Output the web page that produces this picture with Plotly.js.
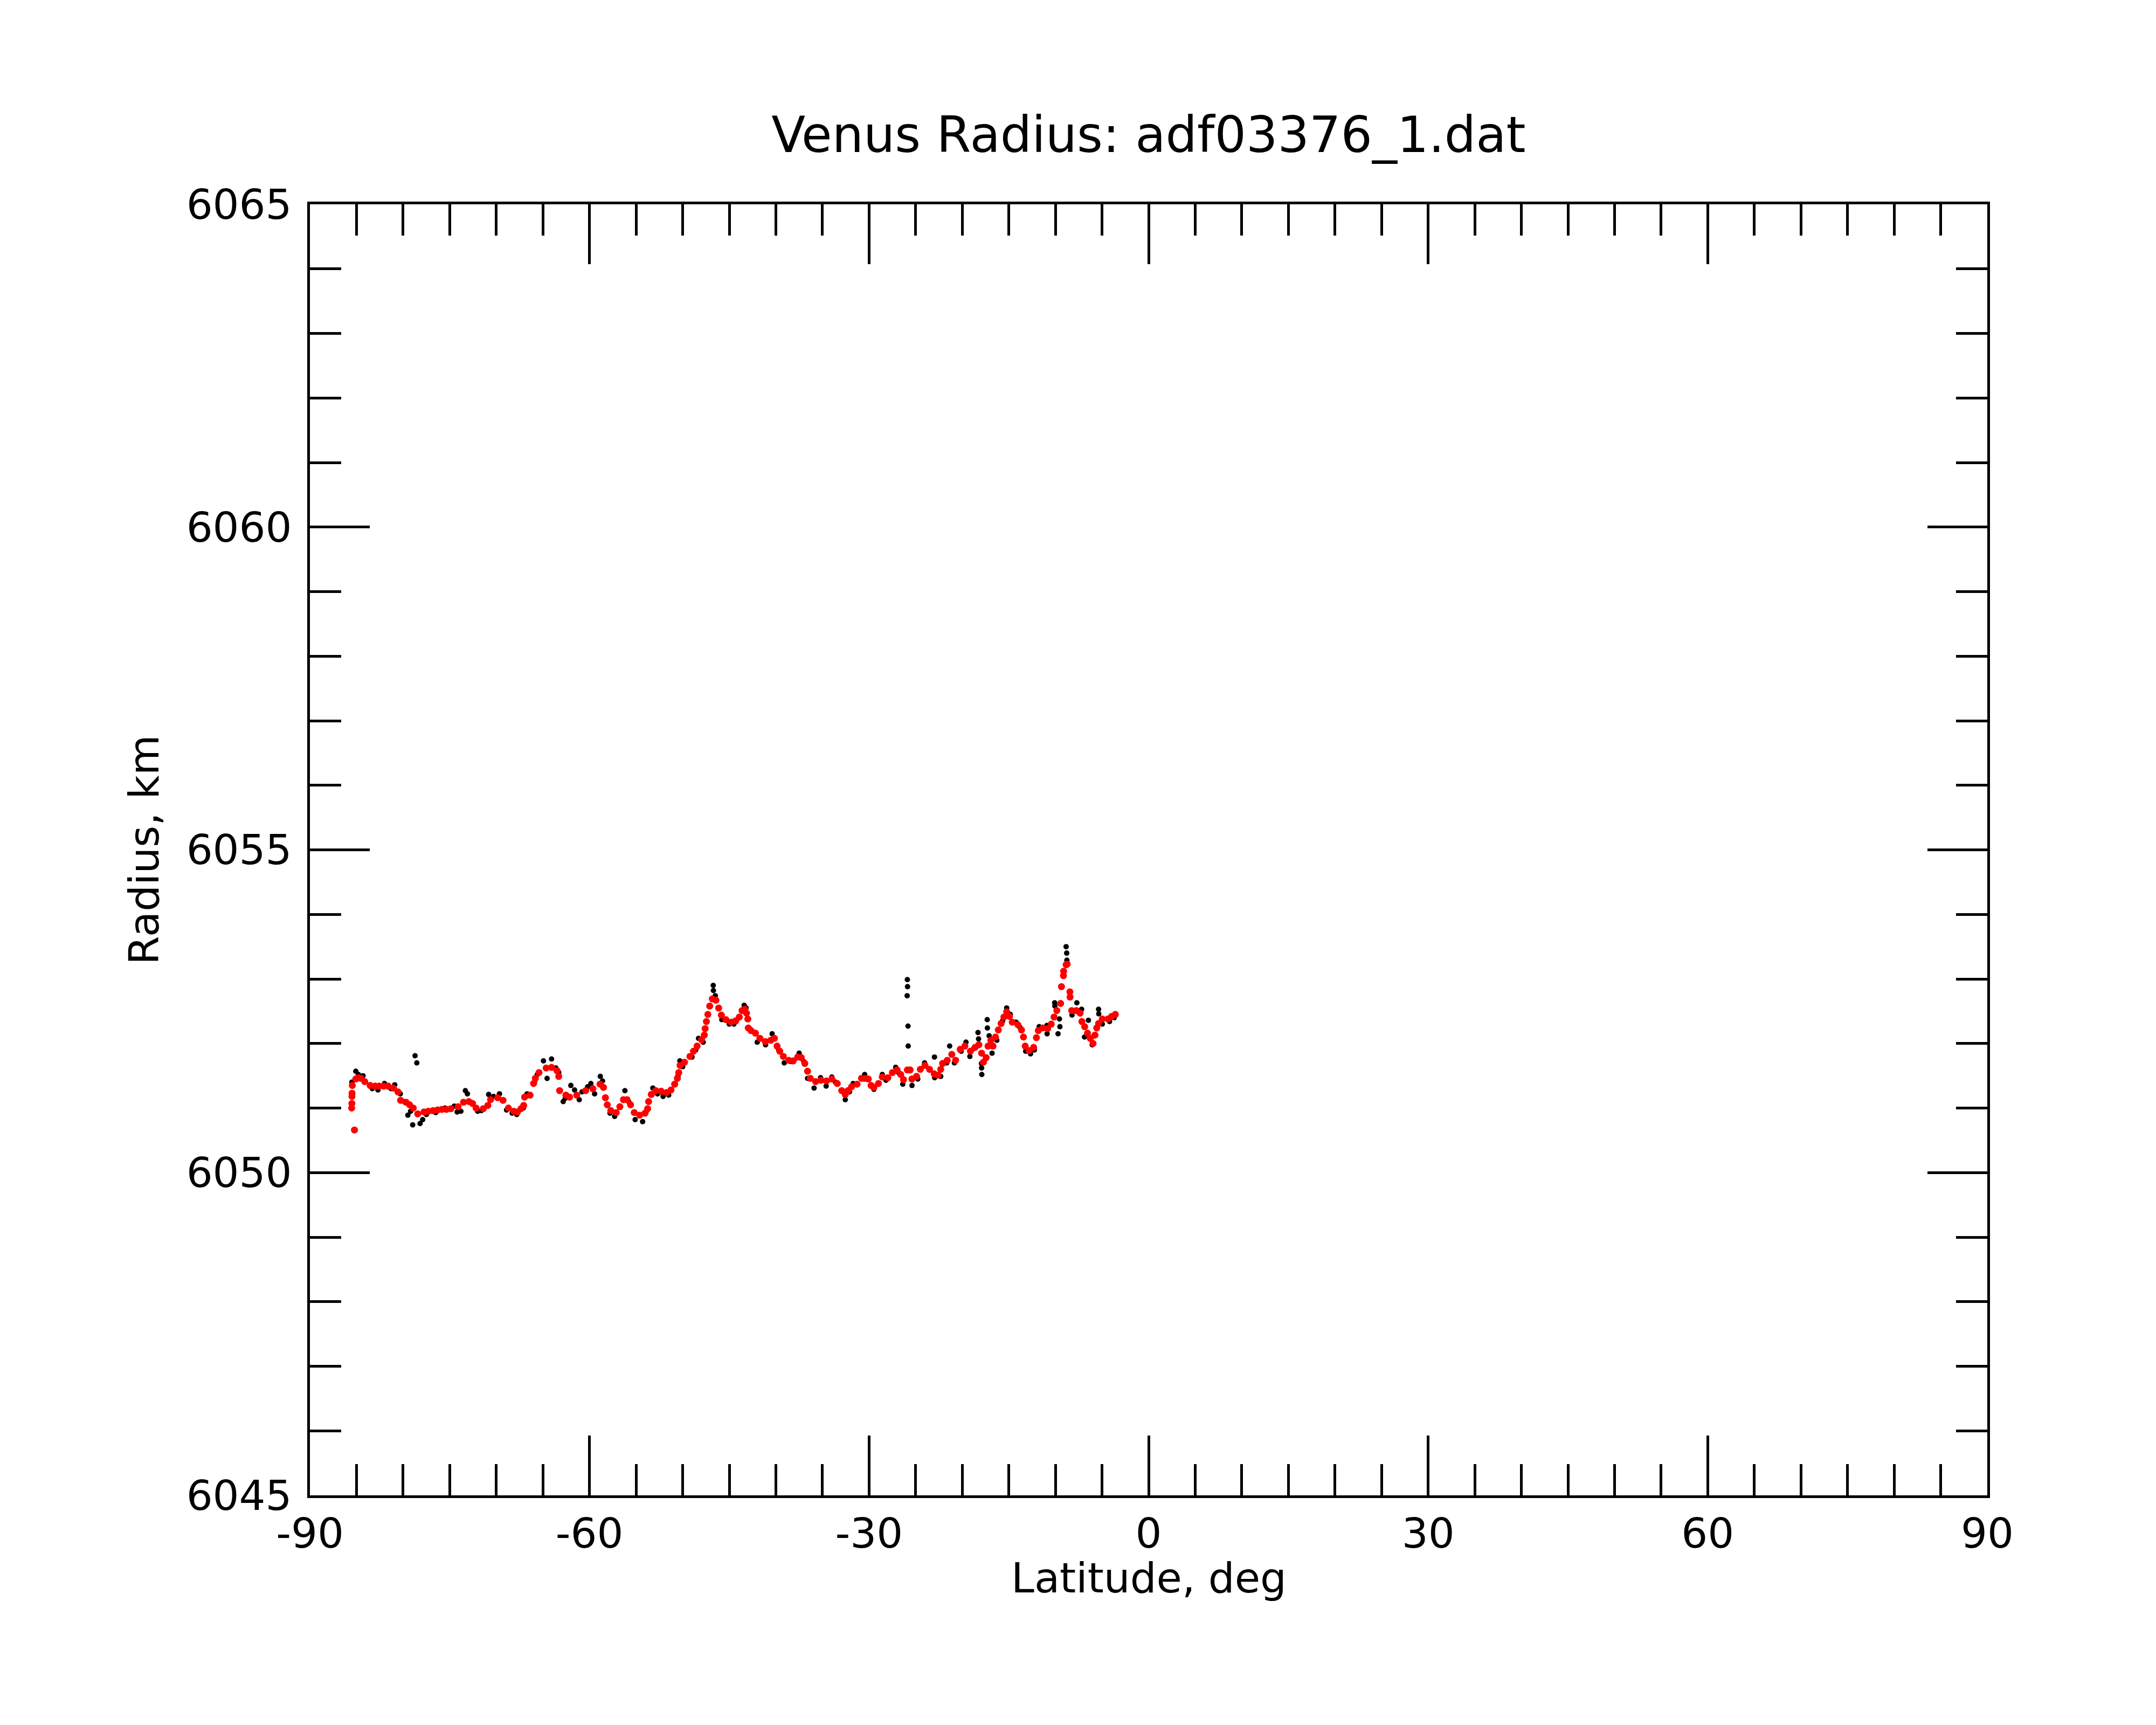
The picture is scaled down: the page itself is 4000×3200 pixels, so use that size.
<!DOCTYPE html>
<html>
<head>
<meta charset="utf-8">
<script src="https://cdn.plot.ly/plotly-3.0.1.min.js"></script>
<style>html,body{margin:0;padding:0;background:#fff;}</style>
</head>
<body>
<div id="chart" style="width:4000px;height:3200px;"></div>
<script>
// Raw radius samples (black)
const rawLat = [-85.50,-85.08,-84.80,-84.30,-83.30,-82.70,-82.00,-81.30,-80.90,-80.30,-79.90,-79.49,-79.20,-78.97,-78.72,-78.53,-78.18,-77.90,-77.50,-76.50,-75.50,-74.50,-74.20,-73.80,-73.32,-73.10,-72.00,-71.60,-70.82,-70.30,-69.66,-68.90,-68.30,-67.80,-67.10,-66.70,-65.90,-65.60,-64.94,-64.55,-64.07,-63.60,-63.30,-62.82,-62.60,-62.00,-61.60,-61.10,-60.80,-60.20,-59.85,-59.45,-58.84,-58.60,-57.80,-57.30,-56.20,-55.80,-55.10,-54.30,-53.90,-53.20,-52.70,-52.10,-51.50,-50.50,-50.30,-50.00,-49.00,-48.60,-48.30,-47.80,-46.72,-46.70,-46.50,-45.80,-45.00,-44.50,-43.40,-43.20,-42.80,-42.00,-41.10,-40.40,-39.70,-39.10,-38.40,-37.50,-37.00,-36.60,-35.90,-35.20,-34.60,-34.00,-33.60,-32.55,-32.10,-31.70,-30.47,-29.48,-28.58,-28.18,-27.14,-26.83,-26.38,-25.89,-25.87,-25.91,-25.82,-25.80,-25.39,-24.77,-24.04,-22.98,-22.96,-22.31,-21.66,-21.35,-20.84,-20.11,-19.60,-19.18,-18.77,-18.31,-18.25,-17.94,-17.92,-17.90,-17.32,-17.30,-17.11,-16.80,-16.29,-15.67,-15.23,-14.84,-14.22,-13.81,-13.19,-12.67,-12.26,-11.74,-10.91,-10.89,-10.08,-10.06,-9.57,-9.52,-9.72,-8.85,-8.79,-8.77,-8.22,-7.70,-7.19,-6.88,-6.46,-6.05,-5.37,-5.35,-4.97,-4.19,-3.70];
const rawRad = [6051.40,6051.57,6051.52,6051.50,6051.30,6051.28,6051.38,6051.30,6051.36,6051.22,6051.10,6050.89,6050.95,6050.74,6051.81,6051.70,6050.76,6050.82,6050.90,6050.93,6051.00,6051.03,6050.94,6050.95,6051.27,6051.22,6050.95,6050.96,6051.21,6051.18,6051.22,6050.97,6050.92,6050.90,6051.00,6051.22,6051.40,6051.52,6051.73,6051.46,6051.76,6051.62,6051.55,6051.10,6051.15,6051.35,6051.28,6051.13,6051.25,6051.33,6051.38,6051.22,6051.49,6051.42,6050.92,6050.87,6051.27,6051.10,6050.82,6050.79,6050.95,6051.31,6051.22,6051.18,6051.20,6051.50,6051.73,6051.64,6051.79,6051.90,6052.08,6052.02,6052.90,6052.82,6052.74,6052.37,6052.30,6052.30,6052.59,6052.55,6052.22,6052.02,6051.98,6052.15,6051.90,6051.70,6051.72,6051.85,6051.72,6051.46,6051.31,6051.47,6051.34,6051.48,6051.40,6051.13,6051.25,6051.38,6051.52,6051.29,6051.52,6051.43,6051.63,6051.55,6051.37,6052.99,6052.88,6052.74,6052.27,6051.96,6051.35,6051.45,6051.70,6051.79,6051.47,6051.49,6051.70,6051.96,6051.70,6051.88,6052.02,6051.80,6051.92,6052.17,6052.07,6051.69,6051.62,6051.52,6052.37,6052.24,6052.12,6051.85,6052.05,6052.35,6052.55,6052.45,6052.33,6052.25,6051.88,6051.84,6051.90,6052.26,6052.28,6052.15,6052.63,6052.58,6052.38,6052.26,6052.15,6053.50,6053.40,6053.29,6052.44,6052.63,6052.53,6052.10,6052.36,6051.98,6052.53,6052.46,6052.30,6052.34,6052.40];

// Smoothed radius (red)
const fitLat = [-85.52,-85.50,-85.49,-85.48,-85.45,-85.22,-85.08,-84.80,-84.51,-84.12,-83.54,-83.00,-82.58,-82.10,-81.61,-81.04,-80.55,-80.27,-79.69,-79.30,-78.91,-78.43,-77.76,-77.30,-76.80,-76.30,-75.83,-75.35,-74.87,-74.10,-73.52,-72.94,-72.55,-72.17,-71.40,-70.91,-70.62,-69.85,-69.28,-68.70,-68.12,-67.73,-67.35,-67.06,-66.96,-66.38,-66.00,-65.81,-65.42,-64.65,-64.07,-63.49,-63.30,-63.20,-62.53,-62.14,-61.37,-60.41,-59.64,-58.87,-58.50,-58.29,-58.09,-57.71,-57.13,-56.74,-56.36,-55.97,-55.59,-55.20,-54.62,-54.04,-53.76,-53.66,-53.37,-52.89,-52.31,-51.73,-51.25,-50.86,-50.57,-50.42,-50.28,-49.80,-49.22,-48.84,-48.45,-47.97,-47.68,-47.59,-47.45,-47.30,-47.10,-46.82,-46.43,-46.14,-45.85,-45.37,-44.79,-44.31,-43.92,-43.63,-43.34,-43.15,-43.01,-42.96,-42.67,-42.19,-41.71,-41.13,-40.55,-40.16,-39.87,-39.58,-39.20,-38.62,-38.14,-37.66,-37.27,-36.89,-36.60,-36.31,-35.73,-35.15,-34.57,-33.99,-33.41,-32.93,-32.55,-32.26,-31.87,-31.29,-30.81,-30.47,-30.08,-29.78,-29.48,-28.99,-28.58,-27.98,-27.49,-26.99,-26.60,-26.30,-25.89,-25.59,-25.40,-24.90,-24.50,-24.00,-23.51,-23.01,-22.61,-22.31,-22.11,-21.61,-21.12,-20.71,-20.22,-19.72,-19.12,-18.62,-18.22,-17.92,-17.73,-17.43,-17.23,-16.93,-16.70,-16.43,-16.13,-15.83,-15.53,-15.23,-14.93,-14.63,-14.03,-13.64,-13.43,-13.24,-12.83,-12.34,-12.04,-11.84,-11.35,-10.84,-10.45,-10.15,-9.85,-9.44,-9.35,-9.14,-9.12,-8.85,-8.74,-8.45,-8.43,-8.25,-7.76,-7.35,-7.16,-6.86,-6.56,-6.26,-5.96,-5.76,-5.57,-5.37,-4.97,-4.37,-3.96,-3.57];
const fitRad = [6051.00,6051.07,6051.18,6051.23,6051.35,6050.66,6051.45,6051.47,6051.46,6051.41,6051.35,6051.34,6051.34,6051.34,6051.34,6051.31,6051.25,6051.12,6051.09,6051.05,6051.00,6050.91,6050.94,6050.95,6050.96,6050.97,6050.98,6050.98,6050.99,6051.02,6051.09,6051.10,6051.07,6051.00,6050.99,6051.04,6051.13,6051.16,6051.12,6051.00,6050.95,6050.94,6050.99,6051.04,6051.17,6051.20,6051.38,6051.46,6051.55,6051.62,6051.63,6051.58,6051.49,6051.27,6051.20,6051.17,6051.20,6051.27,6051.30,6051.37,6051.32,6051.16,6051.05,6050.96,6050.93,6051.02,6051.13,6051.13,6051.05,6050.93,6050.89,6050.92,6050.99,6051.10,6051.21,6051.27,6051.26,6051.24,6051.28,6051.37,6051.46,6051.55,6051.66,6051.71,6051.80,6051.88,6051.96,6052.06,6052.13,6052.23,6052.34,6052.45,6052.58,6052.69,6052.67,6052.55,6052.44,6052.37,6052.33,6052.35,6052.41,6052.51,6052.53,6052.47,6052.38,6052.24,6052.20,6052.16,6052.08,6052.03,6052.05,6052.08,6051.96,6051.88,6051.80,6051.74,6051.73,6051.79,6051.78,6051.69,6051.57,6051.46,6051.41,6051.43,6051.42,6051.45,6051.38,6051.27,6051.21,6051.27,6051.33,6051.37,6051.46,6051.46,6051.45,6051.35,6051.32,6051.38,6051.48,6051.47,6051.55,6051.59,6051.52,6051.44,6051.59,6051.59,6051.45,6051.49,6051.60,6051.66,6051.60,6051.53,6051.51,6051.60,6051.69,6051.74,6051.83,6051.74,6051.91,6051.96,6051.88,6051.94,6051.98,6051.85,6051.71,6051.78,6051.96,6052.05,6051.96,6052.10,6052.21,6052.31,6052.41,6052.49,6052.42,6052.33,6052.29,6052.21,6052.10,6051.96,6051.89,6051.94,6052.09,6052.20,6052.24,6052.23,6052.30,6052.41,6052.51,6052.62,6052.88,6053.05,6053.12,6053.22,6053.23,6052.80,6052.72,6052.51,6052.51,6052.47,6052.34,6052.26,6052.16,6052.08,6052.00,6052.13,6052.24,6052.31,6052.38,6052.38,6052.42,6052.45];

const xTicks = [-90,-60,-30,0,30,60,90];
const yTicks = [6045,6050,6055,6060,6065];
const xTitle = 'Latitude, deg';
const yTitle = 'Radius, km';
const chartTitle = 'Venus Radius: adf03376_1.dat';

const FONT = 'DejaVu Sans, sans-serif';

const traces = [
  {x: rawLat, y: rawRad, type: 'scatter', mode: 'markers',
   marker: {color: '#000000', size: 10, line: {width: 0}}, showlegend: false, hoverinfo: 'skip'},
  {x: fitLat, y: fitRad, type: 'scatter', mode: 'markers',
   marker: {color: '#ff0000', size: 13, line: {width: 0}}, showlegend: false, hoverinfo: 'skip'}
];

const axisCommon = {
  showgrid: false, zeroline: false, showline: true, linecolor: '#000', linewidth: 5,
  mirror: 'allticks', ticks: 'inside', ticklen: 111, tickwidth: 5, tickcolor: '#000',
  tickfont: {family: FONT, size: 77, color: '#000'}
};

const layout = {
  width: 4000, height: 3200,
  paper_bgcolor: '#fff', plot_bgcolor: '#fff',
  margin: {l: 575, r: 313, t: 379, b: 426, pad: 0},
  font: {family: FONT, color: '#000'},
  title: {text: chartTitle, font: {family: FONT, size: 92, color: '#000'},
          x: 0.5, xref: 'paper', y: 1 - 282/3200, yref: 'container', yanchor: 'bottom'},
  xaxis: Object.assign({}, axisCommon, {
    range: [-90, 90], tickmode: 'array', tickvals: xTicks, ticktext: xTicks.map(String),
    minor: {dtick: 5, tick0: 0, ticks: 'inside', ticklen: 58, tickwidth: 5, tickcolor: '#000', showgrid: false}
  }),
  yaxis: Object.assign({}, axisCommon, {
    range: [6045, 6065], tickmode: 'array', tickvals: yTicks, ticktext: yTicks.map(String),
    ticklabelstandoff: 13,
    minor: {dtick: 1, tick0: 6045, ticks: 'inside', ticklen: 58, tickwidth: 5, tickcolor: '#000', showgrid: false},
    title: {text: yTitle, font: {family: FONT, size: 77, color: '#000'}, standoff: 27}
  }),
  annotations: [
    {text: xTitle, xref: 'paper', yref: 'paper', x: 0.5, y: -0.064, xanchor: 'center', yanchor: 'middle',
     showarrow: false, borderpad: 0, font: {family: FONT, size: 77, color: '#000'}}
  ]
};

Plotly.newPlot('chart', traces, layout, {staticPlot: true, displayModeBar: false});
</script>
</body>
</html>
